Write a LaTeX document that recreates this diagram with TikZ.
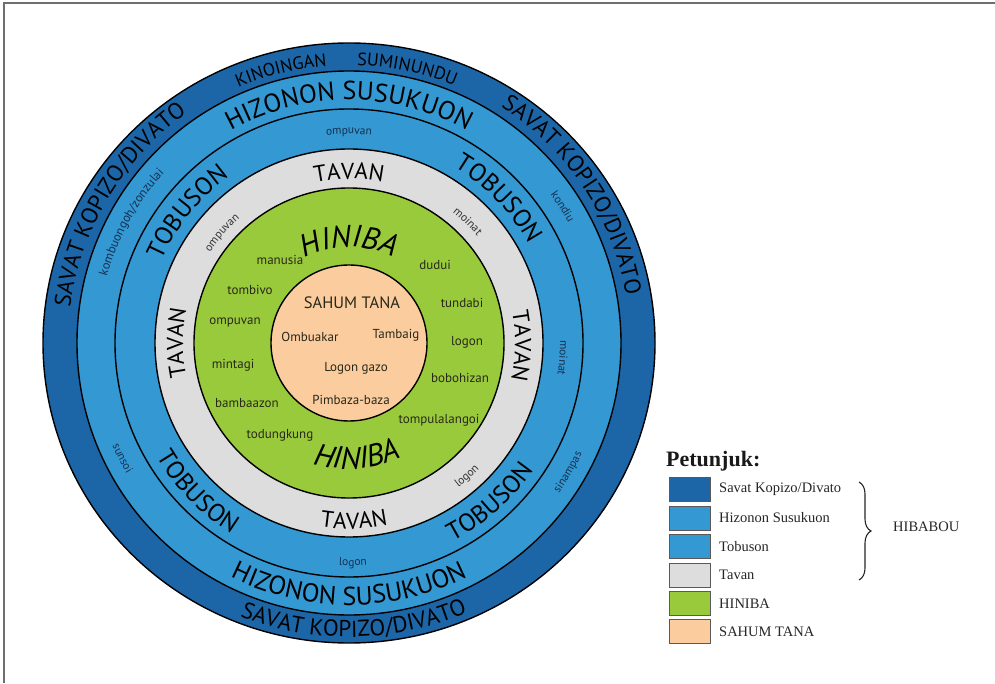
\documentclass[tikz,border=0pt]{standalone}
\usepackage{fontspec}
\setmainfont{Liberation Serif}
\newfontfamily\ringfont{PT Sans}
\usetikzlibrary{decorations.text,decorations.pathreplacing}
\definecolor{darkb}{RGB}{28,102,168}
\definecolor{midb}{RGB}{52,152,211}
\definecolor{tavang}{RGB}{221,221,221}
\definecolor{hinig}{RGB}{153,202,60}
\definecolor{sahum}{RGB}{251,204,158}
\definecolor{frameg}{RGB}{110,110,110}
\definecolor{smallb}{RGB}{22,48,80}
\definecolor{wordc}{RGB}{40,40,25}
% clockwise arc text (tops outward)
\newcommand{\cwarc}[6]{%
 \path[decorate,decoration={text along path,text align=center,text color=#5,
   text={|\ringfont#4|#6}}]
   (C) ++({#1+#3}:#2) arc[start angle={#1+#3},end angle={#1-#3},radius=#2];}
% counterclockwise arc text (tops inward)
\newcommand{\ccwarc}[6]{%
 \path[decorate,decoration={text along path,text align=center,text color=#5,
   text={|\ringfont#4|#6}}]
   (C) ++({#1-#3}:#2) arc[start angle={#1-#3},end angle={#1+#3},radius=#2];}
\newcommand{\fs}[1]{\fontsize{#1}{#1}\selectfont}
\begin{document}
\begin{tikzpicture}[x=1pt,y=1pt,
  ring/.style={draw=black,line width=1.4pt},
  legbox/.style={draw=black!65,line width=0.8pt,minimum width=41pt,minimum height=24pt,inner sep=0pt},
  leglab/.style={anchor=west,inner sep=0pt,font=\fontsize{14.5}{14.5}\selectfont,text=black!85},
  gword/.style={inner sep=0pt,font=\ringfont\fontsize{13}{13}\selectfont,text=wordc},
  cword/.style={inner sep=0pt,font=\ringfont\fontsize{13}{13}\selectfont,text=wordc}]
\useasboundingbox (0,0) rectangle (995,683);
\fill[white] (0,0) rectangle (995,683);
% frame
\draw[frameg,line width=1.5pt] (4,0) -- (4,680) -- (995,680);
\coordinate (C) at (349,340);
% rings
\fill[darkb] (C) ellipse [x radius=306, y radius=300];
\draw[ring] (C) ellipse [x radius=306, y radius=300];
\filldraw[ring,fill=midb] (C) circle [radius=272];
\draw[ring] (C) circle [radius=234];
\filldraw[ring,fill=tavang] (C) circle [radius=194];
\filldraw[ring,fill=hinig] (C) circle [radius=155];
\filldraw[ring,fill=sahum] (C) circle [radius=78];
% outer ring texts
\cwarc{149}{281}{40}{\fs{23}}{black}{SAVAT KOPIZO/DIVATO}
\cwarc{33.5}{281}{40}{\fs{23}}{black}{SAVAT KOPIZO/DIVATO}
\ccwarc{-89}{294}{40}{\fs{23}}{black}{SAVAT KOPIZO/DIVATO}
\cwarc{104}{278}{15}{\fs{18}}{black}{KINOINGAN}
\cwarc{78}{278}{15}{\fs{18}}{black}{SUMINUNDU}
% hizonon ring
\cwarc{90}{243}{45}{\fs{26}}{black}{HIZONON SUSUKUON}
\ccwarc{-90}{262}{45}{\fs{26}}{black}{HIZONON SUSUKUON}
\cwarc{151}{251}{25}{\fs{12.5}}{smallb}{kombuongoh/zonzulai}
\cwarc{32.5}{250}{12}{\fs{11.5}}{smallb}{kondiu}
\ccwarc{-30.5}{258}{12}{\fs{11.5}}{smallb}{sinampas}
\ccwarc{207}{258}{12}{\fs{11.5}}{smallb}{sunsoi}
% tobuson ring
\cwarc{141}{205}{30}{\fs{25}}{black}{TOBUSON}
\cwarc{44}{205}{30}{\fs{25}}{black}{TOBUSON}
\ccwarc{224.5}{224}{30}{\fs{25}}{black}{TOBUSON}
\ccwarc{-48.5}{224}{30}{\fs{25}}{black}{TOBUSON}
\cwarc{90}{209}{15}{\fs{11.5}}{smallb}{ompuvan}
\cwarc{-4}{211}{15}{\fs{11.5}}{smallb}{moinat}
\ccwarc{-89}{223}{15}{\fs{11.5}}{smallb}{logon}
% tavan ring
\cwarc{90}{164}{30}{\fs{23}}{black}{TAVAN}
\ccwarc{-88.4}{186}{30}{\fs{23}}{black}{TAVAN}
\cwarc{180}{166}{30}{\fs{23}}{black}{TAVAN}
\cwarc{-1}{166}{30}{\fs{23}}{black}{TAVAN}
\cwarc{139}{166}{15}{\fs{11.5}}{black!80}{ompuvan}
\cwarc{45.7}{167}{15}{\fs{11.5}}{black!80}{moinat}
\ccwarc{-48.4}{181}{15}{\fs{11.5}}{black!80}{logon}
% hiniba
\cwarc{90}{96}{55}{\itshape\fs{31}}{black}{HINIBA}
\ccwarc{-86}{126}{45}{\itshape\fs{31}}{black}{HINIBA}
\node[gword] (w1) at (280,423) {manusia};
\node[gword] (w2) at (250,393) {tombivo};
\node[gword] (w3) at (235,361) {ompuvan};
\node[gword] (w4) at (233,318) {mintagi};
\node[gword] (w5) at (247,280) {bambaazon};
\node[gword] (w6) at (280,248) {todungkung};
\node[gword] (w7) at (435,418) {dudui};
\node[gword] (w8) at (462,380) {tundabi};
\node[gword] (w9) at (467,341) {logon};
\node[gword] (w10) at (460,305) {bobohizan};
\node[gword] (w11) at (439,263) {tompulalangoi};
% sahum tana
\node[cword,font=\ringfont\fontsize{16.5}{16.5}\selectfont] (s0) at (352,380) {SAHUM TANA};
\node[cword] (s1) at (310,346) {Ombuakar};
\node[cword] (s2) at (396,348) {Tambaig};
\node[cword] (s3) at (356,315) {Logon gazo};
\node[cword] (s4) at (351,283) {Pimbaza-baza};
% legend
\node[anchor=base west,inner sep=0pt,font=\bfseries\fontsize{22}{22}\selectfont,text=black!90] (pt) at (666,217) {Petunjuk:};
\node[legbox,fill=darkb] (b1) at (689.5,193.5) {};
\node[legbox,fill=midb] (b2) at (689.5,165) {};
\node[legbox,fill=midb] (b3) at (689.5,136.5) {};
\node[legbox,fill=tavang] (b4) at (689.5,108) {};
\node[legbox,fill=hinig] (b5) at (689.5,79.5) {};
\node[legbox,fill=sahum] (b6) at (689.5,51.5) {};
\node[leglab] (l1) at (719,193.5) {Savat Kopizo/Divato};
\node[leglab] (l2) at (719,165) {Hizonon Susukuon};
\node[leglab] (l3) at (719,136.5) {Tobuson};
\node[leglab] (l4) at (719,108) {Tavan};
\node[leglab] (l5) at (719,79.5) {HINIBA};
\node[leglab] (l6) at (719,51.5) {SAHUM TANA};
\coordinate (bt) at (859,201);
\coordinate (bb) at (859,103);
\draw[black!85,line width=1.1pt,decorate,decoration={brace,amplitude=12pt}] (bt) -- (bb);
\node[leglab] (hb) at (893,156) {HIBABOU};
\end{tikzpicture}
\end{document}
